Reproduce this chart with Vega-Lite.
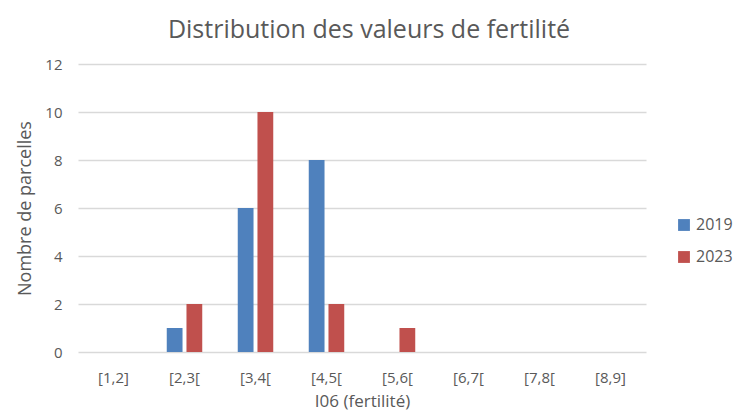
{
  "$schema": "https://vega.github.io/schema/vega-lite/v6.json",
  "width": 568,
  "height": 288,
  "autosize": {"type": "none"},
  "padding": {"left": 78, "top": 64, "right": 87, "bottom": 68},
  "background": "white",
  "title": {"text": "Distribution des valeurs de fertilité", "font": "Open Sans", "fontSize": 25, "fontWeight": "normal", "color": "#595959", "anchor": "middle", "dx": 7, "offset": 14, "frame": "group"},
  "data": {"values": [
    {"classe": "[1,2]", "annee": "2019", "n": 0},
    {"classe": "[1,2]", "annee": "2023", "n": 0},
    {"classe": "[2,3[", "annee": "2019", "n": 1},
    {"classe": "[2,3[", "annee": "2023", "n": 2},
    {"classe": "[3,4[", "annee": "2019", "n": 6},
    {"classe": "[3,4[", "annee": "2023", "n": 10},
    {"classe": "[4,5[", "annee": "2019", "n": 8},
    {"classe": "[4,5[", "annee": "2023", "n": 2},
    {"classe": "[5,6[", "annee": "2019", "n": 0},
    {"classe": "[5,6[", "annee": "2023", "n": 1},
    {"classe": "[6,7[", "annee": "2019", "n": 0},
    {"classe": "[6,7[", "annee": "2023", "n": 0},
    {"classe": "[7,8[", "annee": "2019", "n": 0},
    {"classe": "[7,8[", "annee": "2023", "n": 0},
    {"classe": "[8,9]", "annee": "2019", "n": 0},
    {"classe": "[8,9]", "annee": "2023", "n": 0}
  ]},
  "mark": {"type": "bar", "stroke": null},
  "encoding": {
    "x": {"field": "classe", "type": "nominal", "sort": null,
      "scale": {"paddingInner": 0.5, "paddingOuter": 0.25},
      "axis": {"title": "I06 (fertilité)", "labelAngle": 0, "labelPadding": 18, "titlePadding": 8, "domain": false, "ticks": false,
        "labelFont": "Open Sans", "labelFontSize": 15, "labelColor": "#595959", "titleFont": "Open Sans", "titleFontSize": 17, "titleFontWeight": "normal", "titleColor": "#595959"}},
    "xOffset": {"field": "annee", "type": "nominal", "scale": {"paddingInner": 0.2}},
    "y": {"field": "n", "type": "quantitative", "scale": {"domain": [0, 12]},
      "axis": {"title": "Nombre de parcelles", "values": [0, 2, 4, 6, 8, 10, 12], "domain": false, "ticks": false, "labelPadding": 16,
        "gridColor": "#d9d9d9", "gridWidth": 1.5, "labelFont": "Open Sans", "labelFontSize": 15, "labelColor": "#595959",
        "titleFont": "Open Sans", "titleFontSize": 18, "titleFontWeight": "normal", "titleColor": "#595959", "titlePadding": 10}},
    "color": {"field": "annee", "type": "nominal", "scale": {"domain": ["2019", "2023"], "range": ["#4F81BD", "#C0504D"]},
      "legend": {"title": null, "orient": "none", "legendX": 598, "legendY": 153, "symbolType": "square", "symbolSize": 140, "rowPadding": 16,
        "labelFont": "Open Sans", "labelFontSize": 16, "labelColor": "#595959", "symbolStrokeWidth": 0, "labelOffset": 4}}
  },
  "config": {"view": {"stroke": null}}
}
